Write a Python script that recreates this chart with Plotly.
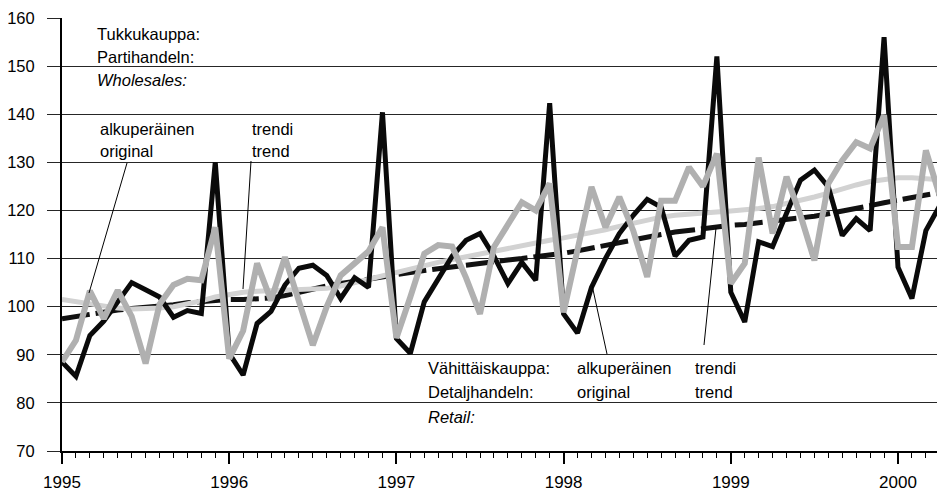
import plotly.graph_objects as go

# ---- data (monthly, Jan 1995 .. Apr 2000) ----
start_year = 1995
n_months = 64
months = [start_year + i / 12 for i in range(n_months)]

retail_original = [
    88.5, 85.5, 94.0, 97.0, 101.0, 105.0, 103.5, 102.0, 97.8, 99.2, 98.6, 130.0,
    90.3, 85.8, 96.5, 99.0, 104.5, 108.0, 108.6, 106.5, 101.7, 106.0, 104.0, 140.4,
    93.4, 90.3, 101.0, 106.0, 110.5, 113.8, 115.2, 110.5, 104.8, 109.2, 105.5, 142.3,
    98.5, 94.5, 104.0, 110.0, 115.2, 119.0, 122.3, 120.7, 110.5, 113.8, 114.5, 152.0,
    103.0, 96.8, 113.5, 112.5, 119.5, 126.3, 128.4, 124.9, 114.8, 118.3, 115.8, 156.0,
    108.2, 101.7, 115.8, 121.0,
]
retail_trend = [
    97.5, 98.0, 98.5, 99.0, 99.3, 99.6, 99.8, 100.1, 100.4, 100.8, 101.1, 101.4,
    101.5, 101.5, 101.6, 101.8, 102.3, 103.0, 103.7, 104.3, 104.8, 105.3, 105.8, 106.3,
    106.7, 107.1, 107.5, 107.9, 108.3, 108.7, 109.0, 109.4, 109.7, 110.0, 110.3, 110.7,
    111.1, 111.6, 112.2, 112.8, 113.4, 114.0, 114.5, 115.0, 115.5, 115.9, 116.3, 116.6,
    116.9, 117.1, 117.4, 117.7, 118.0, 118.4, 118.8, 119.3, 119.8, 120.4, 121.0, 121.6,
    122.2, 122.7, 123.2, 123.7,
]
wholesale_original = [
    88.5, 93.0, 103.3, 97.5, 103.4, 98.0, 88.2, 100.5, 104.5, 105.8, 105.5, 116.5,
    89.2, 95.0, 109.0, 101.3, 110.3, 101.3, 92.0, 100.0, 106.5, 109.0, 111.5, 116.5,
    93.5, 102.0, 111.0, 112.8, 112.5, 106.0, 98.5, 112.4, 117.0, 121.7, 120.0, 125.6,
    98.8, 112.0, 124.9, 116.5, 122.8, 115.8, 106.2, 122.0, 122.0, 129.0, 125.0, 131.8,
    104.8, 109.0, 131.0, 115.2, 127.0, 119.0, 109.6, 125.6, 130.4, 134.2, 132.9, 139.8,
    112.4, 112.4, 132.5, 123.0,
]
wholesale_trend = [
    101.5, 101.0, 100.5, 100.0, 99.7, 99.5, 99.5, 99.7, 100.0, 100.5, 101.2, 102.0,
    102.6, 103.0, 103.2, 103.3, 103.4, 103.5, 103.6, 103.8, 104.3, 105.0, 105.8, 106.6,
    107.3, 108.0, 108.6, 109.2, 109.8, 110.4, 111.0, 111.6, 112.2, 112.8, 113.3, 113.8,
    114.3, 114.8, 115.4, 116.0, 116.7, 117.4, 118.0, 118.6, 119.0, 119.3, 119.5, 119.7,
    119.9, 120.1, 120.4, 120.8, 121.4, 122.0, 122.8, 123.6, 124.5, 125.3, 126.0, 126.5,
    126.8, 126.8, 126.6, 126.4,
]
year_ticks = [1995, 1996, 1997, 1998, 1999, 2000]
y_ticks = [70, 80, 90, 100, 110, 120, 130, 140, 150, 160]

FONT = "Liberation Sans, Arial, sans-serif"

fig = go.Figure()
fig.add_trace(go.Scatter(x=months, y=retail_trend, mode="lines",
                         line=dict(color="#111111", width=5, dash="28px,6px"),
                         showlegend=False, hoverinfo="skip"))
fig.add_trace(go.Scatter(x=months, y=wholesale_trend, mode="lines",
                         line=dict(color="#d2d2d2", width=5),
                         showlegend=False, hoverinfo="skip"))
fig.add_trace(go.Scatter(x=months, y=retail_original, mode="lines",
                         line=dict(color="#0a0a0a", width=5),
                         showlegend=False, hoverinfo="skip"))
fig.add_trace(go.Scatter(x=months, y=wholesale_original, mode="lines",
                         line=dict(color="#b0b0b0", width=6),
                         showlegend=False, hoverinfo="skip"))

W, H = 937, 494
ml, mr, mt, mb = 62, 0, 18, 43
px_per_year = 167.2
x_end = start_year + (W - ml - mr) / px_per_year


def px2x(px):
    return start_year + (px - ml) / px_per_year


def py2y(py):
    return 160 - (py - mt) * 90 / (H - mt - mb)


def label(px, py, text, italic=False):
    fig.add_annotation(x=px2x(px), y=py2y(py), xref="x", yref="y",
                       text=f"<i>{text}</i>" if italic else text,
                       showarrow=False, xanchor="left", yanchor="middle",
                       font=dict(family=FONT, size=16.5, color="black"))


label(95, 34, "Tukkukauppa:")
label(95, 57, "Partihandeln:")
label(95, 80, "Wholesales:", italic=True)
label(98, 129, "alkuperäinen")
label(98, 151, "original")
label(250, 129, "trendi")
label(250, 151, "trend")
label(426, 368, "Vähittäiskauppa:")
label(426, 392, "Detaljhandeln:")
label(426, 417, "Retail:", italic=True)
label(575, 368, "alkuperäinen")
label(575, 392, "original")
label(693, 368, "trendi")
label(693, 392, "trend")


def leader(p0, p1):
    fig.add_shape(type="line", xref="x", yref="y",
                  x0=px2x(p0[0]), y0=py2y(p0[1]), x1=px2x(p1[0]), y1=py2y(p1[1]),
                  line=dict(color="black", width=1))


leader((127, 163), (89, 293))
leader((251, 161), (243, 289))
leader((607, 354), (592, 285))
leader((704, 345), (716, 228))

fig.update_layout(
    width=W, height=H,
    margin=dict(l=ml, r=mr, t=mt, b=mb, pad=0, autoexpand=False),
    paper_bgcolor="white", plot_bgcolor="white",
    font=dict(family=FONT, size=16.5, color="black"),
    showlegend=False,
)
fig.update_xaxes(
    range=[start_year, x_end], tickmode="array", tickvals=year_ticks,
    ticktext=[str(y) for y in year_ticks], automargin=False,
    showgrid=False, zeroline=False,
    showline=True, linecolor="black", linewidth=1.5,
    ticks="outside", ticklen=11, tickwidth=1.5, tickcolor="black",
    ticklabelstandoff=4, tickfont=dict(size=17),
    minor=dict(tick0=start_year, dtick=1 / 12, ticks="outside", ticklen=5,
               tickwidth=1, tickcolor="black", showgrid=False),
)
fig.update_yaxes(
    range=[70, 160], tickmode="array", tickvals=y_ticks,
    ticktext=[str(v) for v in y_ticks], automargin=False,
    showgrid=True, gridcolor="#262626", gridwidth=1.3, zeroline=False,
    showline=True, linecolor="black", linewidth=2,
    ticks="outside", ticklen=13, tickwidth=1.3, tickcolor="#262626",
    ticklabelstandoff=9, tickfont=dict(size=16.5),
)

fig.write_html(
    "out.html",
    config={"displayModeBar": False},
    post_script="document.body.style.margin='0';document.body.style.padding='0';",
)
